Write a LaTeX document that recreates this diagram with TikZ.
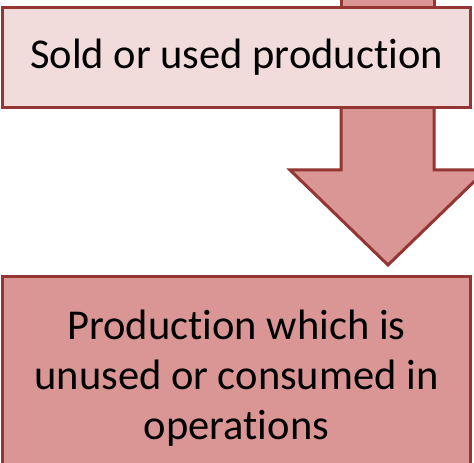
\documentclass[tikz,border=0pt]{standalone}
\usepackage{fontspec}
\setmainfont[Ligatures={NoCommon}]{Carlito}
\definecolor{boxline}{HTML}{943634}
\definecolor{lightfill}{HTML}{F2DCDB}
\definecolor{darkfill}{HTML}{D99694}
\begin{document}
\begin{tikzpicture}[x=1pt,y=1pt,
    box/.style={draw=boxline, line width=3pt, minimum width=468pt, align=center,
      font=\fontsize{42.5}{50}\selectfont},
    blockarrow/.style={draw=boxline, line width=3pt, fill=darkfill, line join=miter}]
  \useasboundingbox (0,0) rectangle (474,463);
  \clip (0,0) rectangle (474,463);
  \def\shaftleft{341}
  \def\shaftright{434}
  \def\headleft{290}
  \def\headright{486}
  \def\tipx{388}
  % arrow coming in from above
  \draw[blockarrow] (\shaftleft,480) -- (\shaftleft,455) -- (\shaftright,455) -- (\shaftright,480) -- cycle;
  % arrow between the two boxes
  \draw[blockarrow] (\shaftleft,360) -- (\shaftleft,293) -- (\headleft,293) -- (\tipx,198)
    -- (\headright,293) -- (\shaftright,293) -- (\shaftright,360) -- cycle;
  \node[box, fill=lightfill, minimum height=100pt] (sold) at (236.5,405.5) {Sold or used production};
  \node[box, fill=darkfill, minimum height=204pt] (unused) at (236.5,84.5)
    {Production which is\\unused or consumed in\\operations};
\end{tikzpicture}
\end{document}
